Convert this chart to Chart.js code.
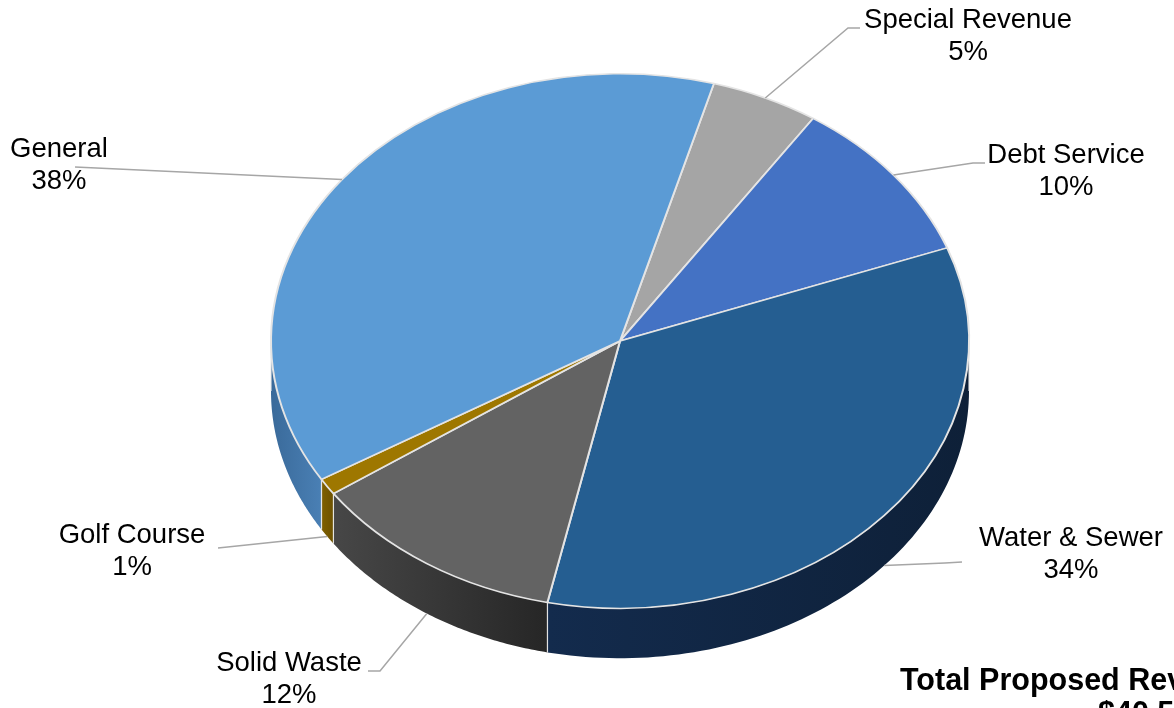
<!DOCTYPE html>
<html lang="en">
<head>
    <meta charset="UTF-8">
    <title>Total Proposed Revenue</title>
    <script src="https://cdn.jsdelivr.net/npm/chart.js"></script>
    <style>
        body { margin: 0; background: #fff; }
        .chart-container { width: 1174px; height: 708px; position: relative; }
    </style>
</head>
<body>

    <div class="chart-container">
        <canvas id="revenueChart"></canvas>
    </div>

    <script>
        // funds, clockwise from the top
        const funds = ["Special Revenue", "Debt Service", "Water & Sewer", "Solid Waste", "Golf Course", "General"];
        const shares = [5, 10, 34, 12, 1, 38];
        const titleLines = ["Total Proposed Revenue", "$40.5 Million"];

        const topColors = ["#a5a5a5", "#4472c4", "#255e91", "#636363", "#9e7700", "#5b9bd5"];
        const sideColors = [
            ["#7c7c7c", "#666666"],
            ["#2f5597", "#22427a"],
            ["#132b4d", "#0e2038"],
            ["#474747", "#262626"],
            ["#7f6000", "#6b5000"],
            ["#3a6a9a", "#4a80b5"]
        ];

        const tilt = 268 / 350;   // vertical squash of the pie
        const depth = 50;         // thickness of the pie wall
        const screenCy = 341;     // centre of top face on screen

        // label centre x, first-line baseline, leader points (label side first)
        const labelLayout = [
            { x: 968, y: 28, path: [[860, 28], [848, 28]] },
            { x: 1066, y: 163, path: [[985, 163], [973, 163]] },
            { x: 1071, y: 546, path: [[962, 562], [945, 563]] },
            { x: 289, y: 671, path: [[368, 671], [380, 671]] },
            { x: 132, y: 543, path: [[218, 548]] },
            { x: 59, y: 157, path: [[75, 167]] }
        ];

        const pie3d = {
            id: "pie3d",
            beforeDatasetsDraw(chart) {
                const ctx = chart.ctx;
                const arcs = chart.getDatasetMeta(0).data;
                arcs.forEach((arc, i) => {
                    const p = arc.getProps(["x", "y", "startAngle", "endAngle", "outerRadius"], true);
                    const R = p.outerRadius;
                    const px = a => p.x + R * Math.cos(a);
                    const py = a => screenCy + R * tilt * Math.sin(a);
                    for (const off of [-2 * Math.PI, 0, 2 * Math.PI]) {
                        const lo = Math.max(p.startAngle, off);
                        const hi = Math.min(p.endAngle, off + Math.PI);
                        if (hi <= lo) continue;
                        const n = 80;
                        ctx.beginPath();
                        for (let j = 0; j <= n; j++) {
                            const a = lo + (hi - lo) * j / n;
                            if (j === 0) ctx.moveTo(px(a), py(a));
                            else ctx.lineTo(px(a), py(a));
                        }
                        for (let j = n; j >= 0; j--) {
                            const a = lo + (hi - lo) * j / n;
                            ctx.lineTo(px(a), py(a) + depth);
                        }
                        ctx.closePath();
                        const x0 = Math.min(px(lo), px(hi)), x1 = Math.max(px(lo), px(hi));
                        const g = ctx.createLinearGradient(x0, 0, x1 + 1, 0);
                        g.addColorStop(0, sideColors[i][0]);
                        g.addColorStop(1, sideColors[i][1]);
                        ctx.fillStyle = g;
                        ctx.fill();
                        ctx.strokeStyle = "rgba(235,235,235,0.9)";
                        ctx.lineWidth = 1.2;
                        ctx.beginPath();
                        ctx.moveTo(px(lo), py(lo));
                        ctx.lineTo(px(lo), py(lo) + depth);
                        ctx.moveTo(px(hi), py(hi));
                        ctx.lineTo(px(hi), py(hi) + depth);
                        ctx.stroke();
                    }
                });
                const cy = arcs[0].y;
                ctx.save();
                ctx.translate(0, screenCy);
                ctx.scale(1, tilt);
                ctx.translate(0, -cy);
            },
            afterDatasetsDraw(chart) {
                chart.ctx.restore();
            },
            afterDraw(chart) {
                const ctx = chart.ctx;
                const arcs = chart.getDatasetMeta(0).data;
                ctx.save();
                ctx.font = "27.5px 'Liberation Sans', Arial, sans-serif";
                ctx.textAlign = "center";
                ctx.textBaseline = "alphabetic";
                arcs.forEach((arc, i) => {
                    const p = arc.getProps(["x", "startAngle", "endAngle", "outerRadius"], true);
                    const mid = (p.startAngle + p.endAngle) / 2;
                    let ax = p.x + p.outerRadius * Math.cos(mid);
                    let ay = screenCy + p.outerRadius * tilt * Math.sin(mid);
                    if (Math.sin(mid) > 0) ay += depth;
                    const L = labelLayout[i];
                    ctx.strokeStyle = "#a6a6a6";
                    ctx.lineWidth = 1.5;
                    ctx.beginPath();
                    ctx.moveTo(L.path[0][0], L.path[0][1]);
                    L.path.slice(1).forEach(pt => ctx.lineTo(pt[0], pt[1]));
                    ctx.lineTo(ax, ay);
                    ctx.stroke();
                    ctx.fillStyle = "#000";
                    ctx.fillText(funds[i], L.x, L.y);
                    ctx.fillText(shares[i] + "%", L.x, L.y + 32);
                });
                ctx.font = "bold 30.5px 'Liberation Sans', Arial, sans-serif";
                ctx.textAlign = "left";
                ctx.fillText(titleLines[0], 900, 690);
                ctx.fillText(titleLines[1], 1098, 723);
                ctx.restore();
            }
        };

        new Chart(document.getElementById("revenueChart"), {
            type: "pie",
            data: {
                labels: funds,
                datasets: [{
                    data: shares,
                    backgroundColor: topColors,
                    borderColor: "#e4e4e4",
                    borderWidth: 2
                }]
            },
            options: {
                responsive: true,
                maintainAspectRatio: false,
                devicePixelRatio: 1,
                animation: false,
                events: [],
                rotation: 15.6,
                layout: { padding: { left: 270, right: 204, top: 4, bottom: 4 } },
                plugins: {
                    legend: { display: false },
                    tooltip: { enabled: false }
                }
            },
            plugins: [pie3d]
        });
    </script>

</body>
</html>
